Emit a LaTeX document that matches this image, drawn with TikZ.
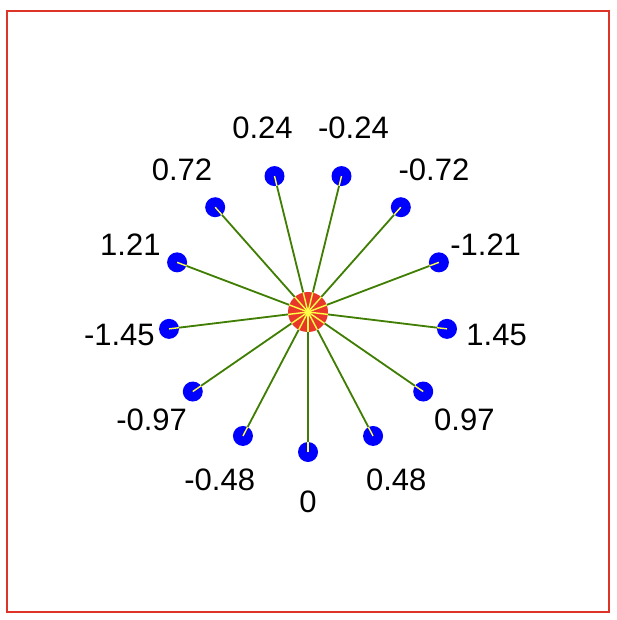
\documentclass[tikz,border=0pt]{standalone}
\usepackage{fontspec}
\setmainfont{Liberation Sans}
\definecolor{frame}{RGB}{222,52,40}
\definecolor{hubred}{RGB}{232,55,42}
\definecolor{spoke}{RGB}{62,125,12}
\definecolor{spokey}{RGB}{255,255,70}
\tikzset{
  dot/.style={circle,fill=blue,inner sep=0pt,minimum size=20pt},
  hub/.style={circle,fill=hubred,inner sep=0pt,minimum size=40pt},
  lab/.style={font=\fontsize{31}{31}\selectfont,inner sep=0pt},
  spokeline/.style={draw=spoke,line width=1.8pt},
  yline/.style={draw=spokey,line width=1.4pt}
}
\begin{document}
\begin{tikzpicture}[x=1pt,y=-1pt]
\useasboundingbox (0,0) rectangle (616,620);
\draw[frame,line width=2pt] (7,11) rectangle (609,612);
\node[hub] (hub) at (308,312) {};
\foreach \k/\t in {0/0,1/0.48,2/0.97,3/1.45,4/-1.21,5/-0.72,6/-0.24,7/0.24,8/0.72,9/1.21,10/-1.45,11/-0.97,12/-0.48}{
  \pgfmathsetmacro{\a}{\k*360/13}
  \node[dot] (d\k) at ({308+140*sin(\a)},{312+140*cos(\a)}) {};
  \node[lab] (l\k) at ({308+190*sin(\a)},{312+190*cos(\a)}) {\t};
  \draw[yline] (d\k.center) -- (hub.center);
  \draw[spokeline] (d\k) -- (hub);
}
\end{tikzpicture}
\end{document}
